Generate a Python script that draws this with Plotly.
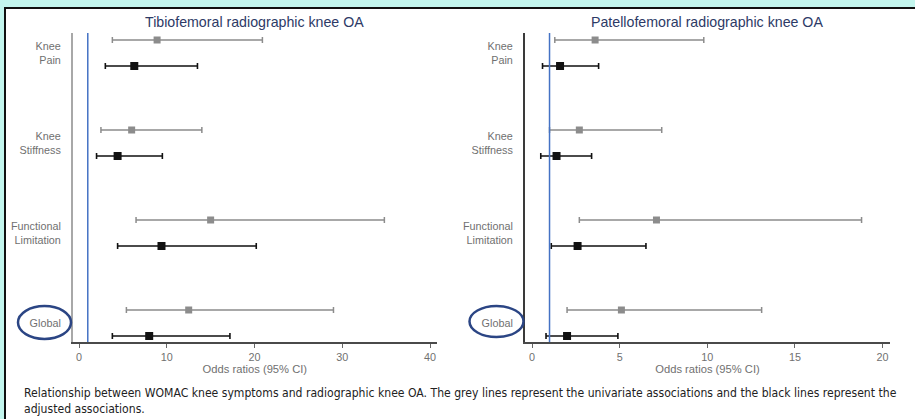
import plotly.graph_objects as go

W, H = 915, 419

# ---------------- data ----------------
categories = ["Knee<br>Pain", "Knee<br>Stiffness", "Functional<br>Limitation", "Global"]

tf_uni_or = [8.9, 6.0, 15.0, 12.5]
tf_uni_lo = [3.8, 2.5, 6.5, 5.4]
tf_uni_hi = [20.9, 14.0, 34.8, 29.0]
tf_adj_or = [6.3, 4.4, 9.4, 8.0]
tf_adj_lo = [3.0, 2.0, 4.4, 3.8]
tf_adj_hi = [13.5, 9.5, 20.2, 17.2]

pf_uni_or = [3.6, 2.7, 7.1, 5.1]
pf_uni_lo = [1.3, 1.0, 2.7, 2.0]
pf_uni_hi = [9.8, 7.4, 18.8, 13.1]
pf_adj_or = [1.6, 1.4, 2.6, 2.0]
pf_adj_lo = [0.6, 0.5, 1.1, 0.8]
pf_adj_hi = [3.8, 3.4, 6.5, 4.9]

tf_ticks = [0, 10, 20, 30, 40]
pf_ticks = [0, 5, 10, 15, 20]

titles = ["Tibiofemoral radiographic knee OA", "Patellofemoral radiographic knee OA"]
xtitle = "Odds ratios (95% CI)"
caption = ("Relationship between WOMAC knee symptoms and radiographic knee OA. The grey lines represent "
           "the univariate associations and the black lines represent the<br>adjusted associations.")

# ---------------- helpers ----------------
def px(x):
    return x / W

def py(y):
    return 1 - y / H

groups = list(range(len(categories)))
off = 13 / 90.0
y_uni = [g - off for g in groups]
y_adj = [g + off for g in groups]

fig = go.Figure()

def add_series(xs, lo, hi, ys, color, msize, lw, xa, ya):
    fig.add_trace(go.Scatter(
        x=xs, y=ys, mode="markers",
        marker=dict(symbol="square", size=msize, color=color),
        error_x=dict(type="data", symmetric=False,
                     array=[h - o for h, o in zip(hi, xs)],
                     arrayminus=[o - l for o, l in zip(xs, lo)],
                     color=color, thickness=lw, width=3),
        xaxis=xa, yaxis=ya, showlegend=False, hoverinfo="x+y"))

grey = "#8c8c8c"
black = "#111111"
add_series(tf_uni_or, tf_uni_lo, tf_uni_hi, y_uni, grey, 7, 1.5, "x", "y")
add_series(tf_adj_or, tf_adj_lo, tf_adj_hi, y_adj, black, 8, 1.6, "x", "y")
add_series(pf_uni_or, pf_uni_lo, pf_uni_hi, y_uni, grey, 7, 1.5, "x2", "y2")
add_series(pf_adj_or, pf_adj_lo, pf_adj_hi, y_adj, black, 8, 1.6, "x2", "y2")

ytop, ybot = 33, 342
yrange = [(ybot - 53) / 90.0, (ytop - 53) / 90.0]

tick_font = dict(family="Arial, Liberation Sans, sans-serif", size=10.8, color="#707070")

common_x = dict(showgrid=False, zeroline=False, showline=True, linewidth=2,
                linecolor="#4a4a4a", ticks="outside", ticklen=4, tickwidth=1,
                tickcolor="#666666", tickfont=tick_font,
                title=dict(text=xtitle, font=dict(family="Arial, Liberation Sans, sans-serif",
                                                   size=11.2, color="#707070"), standoff=0))
common_y = dict(showgrid=False, zeroline=False, showline=True, linewidth=2,
                tickmode="array", tickvals=groups, ticktext=categories, ticks="",
                tickfont=tick_font, ticklabelstandoff=8, range=yrange)

fig.update_layout(
    width=W, height=H,
    margin=dict(l=0, r=0, t=0, b=0),
    paper_bgcolor="#c3f6ee",
    plot_bgcolor="rgba(0,0,0,0)",
    xaxis=dict(domain=[px(73), px(436.7)], range=[(73 - 79) / 8.775, (436.7 - 79) / 8.775],
               tickvals=tf_ticks, anchor="y", **common_x),
    yaxis=dict(domain=[py(ybot), py(ytop)], anchor="x", linecolor="#a8a8a8", **common_y),
    xaxis2=dict(domain=[px(525), px(890)], range=[(525 - 532) / 17.53, (890 - 532) / 17.53],
                tickvals=pf_ticks, anchor="y2", **common_x),
    yaxis2=dict(domain=[py(ybot), py(ytop)], anchor="x2", linecolor="#3a3a3a", **common_y),
)

shapes = [
    # white slide panel
    dict(type="rect", xref="paper", yref="paper", x0=px(5), x1=1.05, y0=-0.05, y1=py(8),
         fillcolor="white", line=dict(color="#111111", width=2), layer="below"),
    # reference lines at OR = 1
    dict(type="line", xref="x", yref="paper", x0=1, x1=1, y0=py(ybot), y1=py(ytop),
         line=dict(color="#4472c4", width=1.5)),
    dict(type="line", xref="x2", yref="paper", x0=1, x1=1, y0=py(ybot), y1=py(ytop),
         line=dict(color="#4472c4", width=1.5)),
    # ellipses around "Global"
    dict(type="circle", xref="paper", yref="paper", x0=px(18), x1=px(71), y0=py(339), y1=py(306),
         line=dict(color="#2b4584", width=2.5)),
    dict(type="circle", xref="paper", yref="paper", x0=px(469.5), x1=px(523.5), y0=py(337), y1=py(306),
         line=dict(color="#2b4584", width=2.5)),
]
fig.update_layout(shapes=shapes)

title_font = dict(family="Arial, Liberation Sans, sans-serif", size=14.2, color="#2d3a66")
annotations = [
    dict(text=titles[0], x=px(255), y=py(22), xref="paper", yref="paper",
         showarrow=False, font=title_font, xanchor="center", yanchor="middle"),
    dict(text=titles[1], x=px(707), y=py(22), xref="paper", yref="paper",
         showarrow=False, font=title_font, xanchor="center", yanchor="middle"),
    dict(text=caption, x=px(22), y=py(401), xref="paper", yref="paper",
         showarrow=False, align="left", xanchor="left", yanchor="middle",
         font=dict(family="Liberation Sans Narrow, DejaVu Sans Condensed, sans-serif",
                   size=12.1, color="#222222")),
]
fig.update_layout(annotations=annotations)

fig.write_html("out.html",
               config={"displayModeBar": False},
               post_script="document.body.style.margin='0px';"
                           "document.body.style.overflow='hidden';"
                           "document.body.style.background='#c3f6ee';")
